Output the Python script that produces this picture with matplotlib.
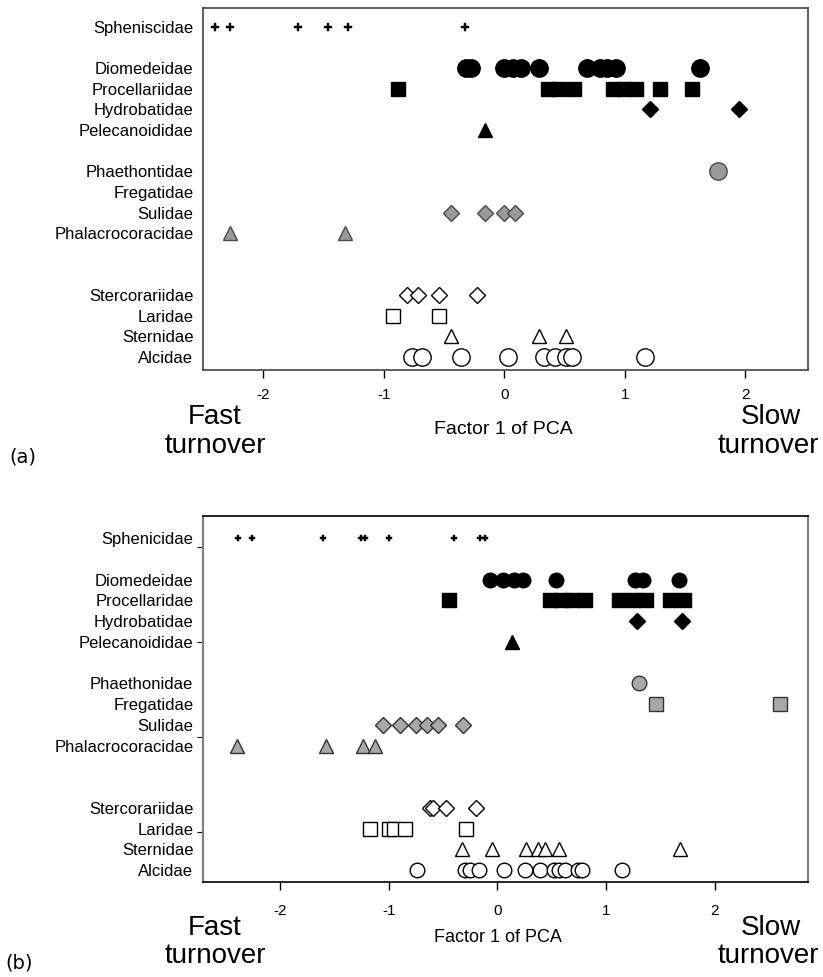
import numpy as np
import matplotlib
matplotlib.use('Agg')
import matplotlib.pyplot as plt

plt.rcParams['font.family'] = ['Liberation Sans', 'DejaVu Sans']
plt.rcParams['axes.unicode_minus'] = False

# family names on the y axis of each panel
names_a = ['Spheniscidae', 'Diomedeidae', 'Procellariidae', 'Hydrobatidae',
           'Pelecanoididae', 'Phaethontidae', 'Fregatidae', 'Sulidae',
           'Phalacrocoracidae', 'Stercorariidae', 'Laridae', 'Sternidae', 'Alcidae']
names_b = ['Sphenicidae', 'Diomedeidae', 'Procellaridae', 'Hydrobatidae',
           'Pelecanoididae', 'Phaethonidae', 'Fregatidae', 'Sulidae',
           'Phalacrocoracidae', 'Stercorariidae', 'Laridae', 'Sternidae', 'Alcidae']
rows = [0, 2, 3, 4, 5, 7, 8, 9, 10, 13, 14, 15, 16]

# factor 1 scores, panel (a)
sphen_a = [-2.40, -2.28, -1.71, -1.46, -1.30, -0.33]
diom_a = [-0.32, -0.28, 0.00, 0.07, 0.14, 0.29, 0.69, 0.79, 0.85, 0.93, 1.62]
proc_a = [-0.88, 0.36, 0.45, 0.58, 0.90, 0.99, 1.09, 1.29, 1.56]
hydro_a = [1.21, 1.95]
pelec_a = [-0.16]
phaet_a = [1.77]
freg_a = []
sula_a = [-0.44, -0.16, 0.00, 0.09]
phala_a = [-2.28, -1.32]
sterc_a = [-0.81, -0.72, -0.54, -0.23]
larid_a = [-0.92, -0.54]
stern_a = [-0.44, 0.29, 0.51]
alcid_a = [-0.77, -0.68, -0.36, 0.03, 0.33, 0.42, 0.51, 0.56, 1.17]

# factor 1 scores, panel (b)
sphen_b = [-2.39, -2.26, -1.61, -1.26, -1.22, -1.00, -0.40, -0.16, -0.11]
diom_b = [-0.07, 0.05, 0.15, 0.24, 0.54, 1.27, 1.34, 1.67]
proc_b = [-0.45, 0.48, 0.59, 0.69, 0.81, 1.12, 1.25, 1.37, 1.59, 1.72]
hydro_b = [1.29, 1.70]
pelec_b = [0.13]
phaet_b = [1.30]
freg_b = [1.46, 2.60]
sula_b = [-1.05, -0.90, -0.75, -0.65, -0.55, -0.32]
phala_b = [-2.40, -1.58, -1.24, -1.13]
sterc_b = [-0.62, -0.59, -0.47, -0.20]
larid_b = [-1.17, -1.00, -0.95, -0.85, -0.29]
stern_b = [-0.33, -0.05, 0.26, 0.37, 0.44, 0.57, 1.68]
alcid_b = [-0.74, -0.30, -0.25, -0.17, 0.06, 0.25, 0.39, 0.52, 0.57, 0.62,
           0.74, 0.78, 1.15]

values_a = [sphen_a, diom_a, proc_a, hydro_a, pelec_a, phaet_a, freg_a,
            sula_a, phala_a, sterc_a, larid_a, stern_a, alcid_a]
values_b = [sphen_b, diom_b, proc_b, hydro_b, pelec_b, phaet_b, freg_b,
            sula_b, phala_b, sterc_b, larid_b, stern_b, alcid_b]

# marker shape and fill for each family (black, grey, open groups)
shapes = ['P', 'o', 's', 'D', '^', 'o', 's', 'D', '^', 'D', 's', '^', 'o']
fills = ['k'] * 5 + ['grey'] * 4 + ['w'] * 4


def draw_panel(ax, values, names, sizes, grey, edge_grey):
    for row, vals, mk, fc in zip(rows, values, shapes, fills):
        if len(vals) == 0:
            continue
        if fc == 'grey':
            face, edge = grey, edge_grey
        elif fc == 'k':
            face, edge = 'k', 'k'
        else:
            face, edge = 'w', 'k'
        ms = sizes[mk]
        if mk == 'P':
            ax.plot(vals, [row] * len(vals), ls='none', marker='P', ms=ms,
                    mfc='k', mec='k', mew=0.3)
        else:
            ax.plot(vals, [row] * len(vals), ls='none', marker=mk, ms=ms,
                    mfc=face, mec=edge, mew=1.0)
    ax.set_yticks(rows)
    ax.set_yticklabels(names, fontsize=12)
    ax.set_xticks([-2, -1, 0, 1, 2])
    ax.set_xticklabels(['-2', '-1', '0', '1', '2'], fontsize=11)


fig = plt.figure(figsize=(8.23, 9.77), dpi=100)

# panel (a)
ax1 = fig.add_axes([0.2467, 0.6213, 0.7351, 0.3705])
draw_panel(ax1, values_a, names_a,
           {'P': 5.5, 'o': 12.5, 's': 10.5, 'D': 8.5, '^': 10.5},
           '#9a9a9a', '#4a4a4a')
ax1.set_xlim(-2.50, 2.52)
ax1.set_ylim(16.63, -0.92)
ax1.tick_params(axis='y', length=0, pad=7)
ax1.tick_params(axis='x', direction='out', length=6, width=1, pad=7)
for sp in ax1.spines.values():
    sp.set_color('#444444')
    sp.set_linewidth(1.2)

# panel (b)
ax2 = fig.add_axes([0.2467, 0.0972, 0.7351, 0.3746])
draw_panel(ax2, values_b, names_b,
           {'P': 5.0, 'o': 10.5, 's': 9.5, 'D': 8.5, '^': 10.0},
           '#a8a8a8', '#333333')
ax2.set_xlim(-2.71, 2.86)
ax2.set_ylim(16.58, -1.06)
ax2.tick_params(axis='y', length=0, pad=7)
ax2.set_yticks([0.43, 5.01, 9.59, 14.17], minor=True)
ax2.tick_params(axis='y', which='minor', direction='out', length=4, width=0.8)
ax2.tick_params(axis='x', direction='out', length=6, width=1, pad=10)
for side in ['top', 'bottom']:
    ax2.spines[side].set_color('k')
    ax2.spines[side].set_linewidth(1.2)
for side in ['left', 'right']:
    ax2.spines[side].set_color('#808080')
    ax2.spines[side].set_linewidth(1.6)

# axis titles and turnover labels
def fy(py):
    return 1 - py / 977.0

def fx(px):
    return px / 823.0

fig.text(fx(503), fy(430), 'Factor 1 of PCA', ha='center', va='center', fontsize=14)
fig.text(fx(215), fy(417), 'Fast', ha='center', va='center', fontsize=20)
fig.text(fx(215), fy(446), 'turnover', ha='center', va='center', fontsize=20)
fig.text(fx(771), fy(417), 'Slow', ha='center', va='center', fontsize=20)
fig.text(fx(768), fy(446), 'turnover', ha='center', va='center', fontsize=20)
fig.text(fx(23), fy(457), '(a)', ha='center', va='center', fontsize=14,
         family='DejaVu Sans')

fig.text(fx(498), fy(937), 'Factor 1 of PCA', ha='center', va='center', fontsize=13)
fig.text(fx(215), fy(928), 'Fast', ha='center', va='center', fontsize=20)
fig.text(fx(215), fy(956), 'turnover', ha='center', va='center', fontsize=20)
fig.text(fx(771), fy(928), 'Slow', ha='center', va='center', fontsize=20)
fig.text(fx(768), fy(956), 'turnover', ha='center', va='center', fontsize=20)
fig.text(fx(19), fy(963), '(b)', ha='center', va='center', fontsize=14,
         family='DejaVu Sans')

plt.savefig('out.png', dpi=100)
